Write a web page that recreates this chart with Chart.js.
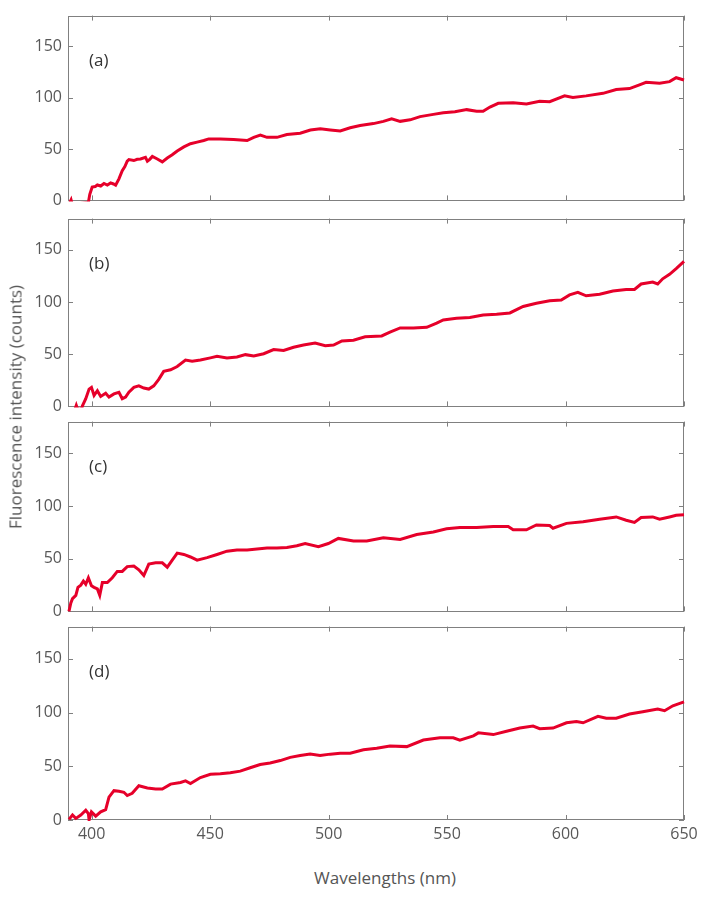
<!DOCTYPE html>
<html>
<head>
<meta charset="utf-8">
<script src="https://cdn.jsdelivr.net/npm/chart.js@4.4.1/dist/chart.umd.min.js"></script>
<style>
  html, body { margin: 0; padding: 0; background: #fff; overflow: hidden; }
  #wrap { position: relative; width: 709px; height: 899px; font-family: "Open Sans", sans-serif; }
  .panel { position: absolute; left: 0; width: 709px; }
  .axis-title { position: absolute; font-size: 17px; color: #555; white-space: nowrap; line-height: 1; }
  #xTitle { left: 385px; top: 877px; transform: translate(-50%, -50%); }
  #yTitle { left: 15px; top: 407px; transform: translate(-50%, -50%) rotate(-90deg); }
</style>
</head>
<body>
<div id="wrap">
  <div class="panel" id="boxA"><canvas id="chartA"></canvas></div>
  <div class="panel" id="boxB"><canvas id="chartB"></canvas></div>
  <div class="panel" id="boxC"><canvas id="chartC"></canvas></div>
  <div class="panel" id="boxD"><canvas id="chartD"></canvas></div>
  <div class="axis-title" id="xTitle">Wavelengths (nm)</div>
  <div class="axis-title" id="yTitle">Fluorescence intensity (counts)</div>
</div>
<script>
// tick values shared by all panels
const xTicks = [400, 450, 500, 550, 600, 650];
const yTicks = [0, 50, 100, 150];
const panelLabels = ["(a)", "(b)", "(c)", "(d)"];

// (a)
const wlA = [390.8, 391.3, 391.8, 398.6, 399.2, 400.2, 401.5, 402.4, 403.8, 405.2, 406.6, 408, 409.2, 410.1, 411.5, 412.9, 414, 415, 415.7, 417.8, 419.2, 420.6, 422.7, 423.5, 424.5, 425.6, 427.7, 429.8, 431.9, 434, 436.1, 438.9, 441.7, 444.5, 447.3, 449.4, 454.3, 459.9, 465.6, 468.4, 471.2, 474, 478.2, 482.4, 488, 492.3, 496.5, 500.7, 504.9, 509.1, 513.3, 518.9, 523.1, 526.6, 530.2, 534.4, 538.6, 544.2, 548.4, 553.3, 558.3, 562.5, 565.2, 568.1, 571.6, 577.9, 583.5, 589.1, 593.3, 599.6, 603.1, 608.7, 615.8, 621.4, 627, 631.2, 634, 639.7, 643.9, 646.7, 650];
const intA = [-2, 0.5, -4, -2, 6, 13, 13.5, 15, 14, 16.5, 15, 17, 16, 14.9, 21, 29, 33, 38.2, 39.7, 38.8, 40, 40.3, 41.9, 38.2, 40, 42.8, 40.3, 37.5, 41.3, 44.4, 48.1, 52.1, 55.2, 56.8, 58.3, 59.9, 59.9, 59.3, 58.3, 61.4, 63.6, 61.4, 61.4, 64.2, 65.5, 68.6, 69.8, 68.6, 67.6, 70.7, 72.9, 74.8, 77, 79.4, 77, 78.5, 81.6, 83.8, 85.3, 86.3, 88.4, 86.9, 86.9, 90.9, 94.6, 95, 94, 96.5, 96.2, 101.8, 100.2, 101.8, 104.3, 108, 108.9, 112.6, 115.1, 114.2, 115.7, 119.5, 117.3];

// (b)
const wlB = [392.9, 393.5, 394.1, 395.8, 396.1, 397.5, 398.9, 399.9, 401, 402.4, 403.8, 405.9, 407.3, 409.4, 411.5, 412.9, 414.3, 415.7, 417.8, 419.9, 422, 424.1, 426.2, 428.3, 430.4, 433.3, 436.1, 439.6, 442.4, 445.9, 450.1, 452.9, 457.1, 461.3, 464.9, 468.4, 472.6, 476.8, 481, 485.2, 489.4, 494.3, 498.6, 502.1, 505.6, 510.5, 515.4, 522.4, 525.9, 530.2, 535.8, 541.4, 545.6, 548.4, 554, 559.6, 565.2, 570.9, 576.5, 582.1, 587.7, 593.3, 598.2, 601.7, 605.2, 608.7, 614.4, 620, 625.6, 629.1, 631.9, 636.8, 638.9, 641, 643.9, 646.7, 650];
const intB = [-3, 1, -3, -2, 0.5, 7.4, 16.6, 18.2, 10.5, 15, 9.5, 12.6, 8.9, 12, 13.6, 7.4, 8.9, 13.6, 18.2, 19.7, 17.6, 16.6, 19.7, 25.9, 33.6, 35.1, 38.2, 44.4, 43.4, 44.4, 46.5, 48, 46.5, 47.4, 49.6, 48.4, 50.5, 54.5, 53.6, 56.7, 58.8, 60.7, 58.2, 58.8, 62.8, 63.5, 66.8, 67.5, 71.1, 75.2, 75.2, 75.8, 79.8, 82.9, 84.4, 85.3, 87.5, 88.4, 89.6, 95.8, 98.9, 101.3, 102, 106.9, 109.3, 106, 107.5, 110.6, 112.1, 112.1, 117.3, 119.2, 117.3, 122.3, 126.6, 132.1, 138.9];

// (c)
const wlC = [390.4, 391.2, 391.9, 393.3, 394.2, 395.4, 396.5, 397.5, 398.6, 399.9, 401, 402.4, 403.4, 404.5, 406.6, 408.7, 410.8, 412.9, 415, 417.8, 419.9, 422, 424.1, 427, 429.8, 431.9, 434, 436.1, 438.9, 441.7, 444.5, 448.7, 452.9, 457.1, 461.3, 465.6, 469.8, 474, 478.2, 482.4, 486.6, 490.1, 495.7, 499.9, 504.1, 510.5, 516.1, 523.1, 530.2, 537.2, 544.2, 549.8, 555.4, 562.5, 569.5, 575.8, 577.9, 583.5, 587.7, 593.3, 594.7, 600.4, 607.4, 614.4, 621.4, 625.6, 629.1, 631.9, 636.8, 639.7, 643.9, 646.7, 650];
const intC = [0, 8, 12.1, 15.2, 22.8, 24.9, 28.8, 25.8, 31.9, 24.3, 22.8, 21.3, 15.2, 27.3, 27.3, 31.9, 37.9, 37.9, 42.5, 43.1, 39.5, 34, 44.9, 46.1, 46.1, 41.9, 48.6, 55.3, 54, 51.6, 48.6, 51, 54, 57.1, 58.3, 58.3, 59.2, 60.1, 60.1, 60.7, 62.2, 64.4, 61.3, 64.4, 69.2, 66.8, 66.8, 69.8, 68.3, 72.9, 75.3, 78.3, 79.5, 79.5, 80.5, 80.5, 77.4, 77.4, 82, 81.4, 78.9, 83.5, 85, 87.4, 89.6, 86.5, 84.4, 89, 89.6, 87.4, 89.6, 91.1, 91.7];

// (d)
const wlD = [390.4, 391.9, 393.3, 395.4, 397.5, 398.6, 398.9, 399.9, 401.7, 403.8, 405.9, 407.3, 409.4, 411.5, 413.6, 415, 417.1, 419.9, 423.5, 427, 429.8, 433.3, 437.5, 439.6, 441.7, 445.9, 450.1, 454.3, 458.5, 462.7, 466.9, 471.1, 475.3, 479.6, 483.8, 488, 492.2, 496.4, 500.7, 504.9, 509.1, 514.7, 520.3, 525.9, 533, 540, 547, 552.6, 555.4, 561.1, 563.2, 569.5, 575.1, 580.7, 586.3, 589.1, 594.7, 600.4, 604.6, 607.4, 613.7, 617.2, 621.4, 627, 632.6, 638.9, 641.8, 645.3, 650];
const intD = [0.6, 4.6, 1.5, 4.6, 9.1, 6, 0, 7.6, 3.6, 7.6, 9.7, 21.3, 27.3, 26.7, 25.8, 22.8, 24.9, 31.9, 29.8, 28.8, 28.8, 33.4, 34.9, 36.4, 34, 39.5, 42.5, 43.1, 44, 45.5, 48.6, 51.6, 53.1, 55.3, 58.3, 60.1, 61.3, 60.1, 61.3, 62.2, 62.2, 65.3, 66.8, 68.9, 68.3, 74.4, 76.5, 76.5, 74.4, 78.3, 81.1, 79.5, 82.6, 85.6, 87.4, 85, 85.6, 90.5, 91.7, 90.5, 96.5, 94.7, 94.7, 98.7, 100.8, 103.2, 101.7, 106.3, 109.9];

const RED = "#e6002a";
const FRAME = "#808080";
const TICK_TXT = "#585858";

Chart.defaults.font.family = "'Open Sans', sans-serif";

// box outline + inward ticks + panel letter
const framePlugin = {
  id: "frame",
  beforeDatasetsDraw(chart) {
    const { ctx, chartArea: a, scales: { x, y } } = chart;
    ctx.save();
    ctx.strokeStyle = FRAME;
    ctx.lineWidth = 1;
    ctx.strokeRect(Math.round(a.left) + 0.5, Math.round(a.top) + 0.5, Math.round(a.width) - 1, Math.round(a.height) - 1);
    ctx.beginPath();
    xTicks.forEach(v => {
      const px = Math.round(x.getPixelForValue(v)) + 0.5;
      ctx.moveTo(px, a.bottom); ctx.lineTo(px, a.bottom - 5);
      ctx.moveTo(px, a.top); ctx.lineTo(px, a.top + 5);
    });
    yTicks.forEach(v => {
      const py = Math.round(y.getPixelForValue(v)) + 0.5;
      ctx.moveTo(a.left, py); ctx.lineTo(a.left + 5, py);
      ctx.moveTo(a.right, py); ctx.lineTo(a.right - 5, py);
    });
    ctx.stroke();
    ctx.restore();
  },
  afterDatasetsDraw(chart, args, opts) {
    const { ctx, chartArea: a } = chart;
    ctx.save();
    ctx.fillStyle = "#333";
    ctx.font = "17px 'Open Sans', sans-serif";
    ctx.textBaseline = "middle";
    ctx.fillText(opts.label, a.left + 21, a.top + 46);
    ctx.restore();
  }
};

// top of div, padding above/below plot area, plot height
const layout = [
  { top: 0,   padTop: 11, padBottom: 12, plotH: 193 },
  { top: 203, padTop: 12, padBottom: 12, plotH: 195 },
  { top: 406, padTop: 12, padBottom: 12, plotH: 197 },
  { top: 611, padTop: 12, padBottom: 0,  plotH: 197 },
];

function makePanel(idx, canvasId, boxId, wl, vals) {
  const L = layout[idx];
  const showX = idx === 3;
  const xAxisH = showX ? 30 : 0;
  const box = document.getElementById(boxId);
  box.style.top = L.top + "px";
  box.style.height = (L.padTop + L.plotH + L.padBottom + xAxisH) + "px";

  const xScale = {
    type: "linear",
    min: 390,
    max: 650,
    display: showX,
    afterBuildTicks: s => { s.ticks = xTicks.map(v => ({ value: v })); },
    grid: { display: false, drawTicks: false },
    border: { display: false },
    ticks: { color: TICK_TXT, font: { size: 16 }, padding: 5, maxRotation: 0, autoSkip: false },
  };
  if (showX) xScale.afterFit = s => { s.height = xAxisH; };

  return new Chart(document.getElementById(canvasId), {
    type: "line",
    data: {
      datasets: [{
        data: wl.map((w, i) => ({ x: w, y: vals[i] })),
        borderColor: RED,
        borderWidth: 3,
        pointRadius: 0,
        tension: 0,
        fill: false,
        clip: 1,
      }]
    },
    options: {
      responsive: true,
      maintainAspectRatio: false,
      animation: false,
      events: [],
      layout: { padding: { top: L.padTop, bottom: L.padBottom, left: 0, right: 25 } },
      plugins: {
        legend: { display: false },
        tooltip: { enabled: false },
        frame: { label: panelLabels[idx] },
      },
      scales: {
        x: xScale,
        y: {
          min: 0,
          max: 180,
          afterBuildTicks: s => { s.ticks = yTicks.map(v => ({ value: v })); },
          afterFit: s => { s.width = 68; },
          grid: { display: false, drawTicks: false },
          border: { display: false },
          ticks: { color: TICK_TXT, font: { size: 16 }, padding: 6 },
        }
      }
    },
    plugins: [framePlugin]
  });
}

makePanel(0, "chartA", "boxA", wlA, intA);
makePanel(1, "chartB", "boxB", wlB, intB);
makePanel(2, "chartC", "boxC", wlC, intC);
makePanel(3, "chartD", "boxD", wlD, intD);
</script>
</body>
</html>
